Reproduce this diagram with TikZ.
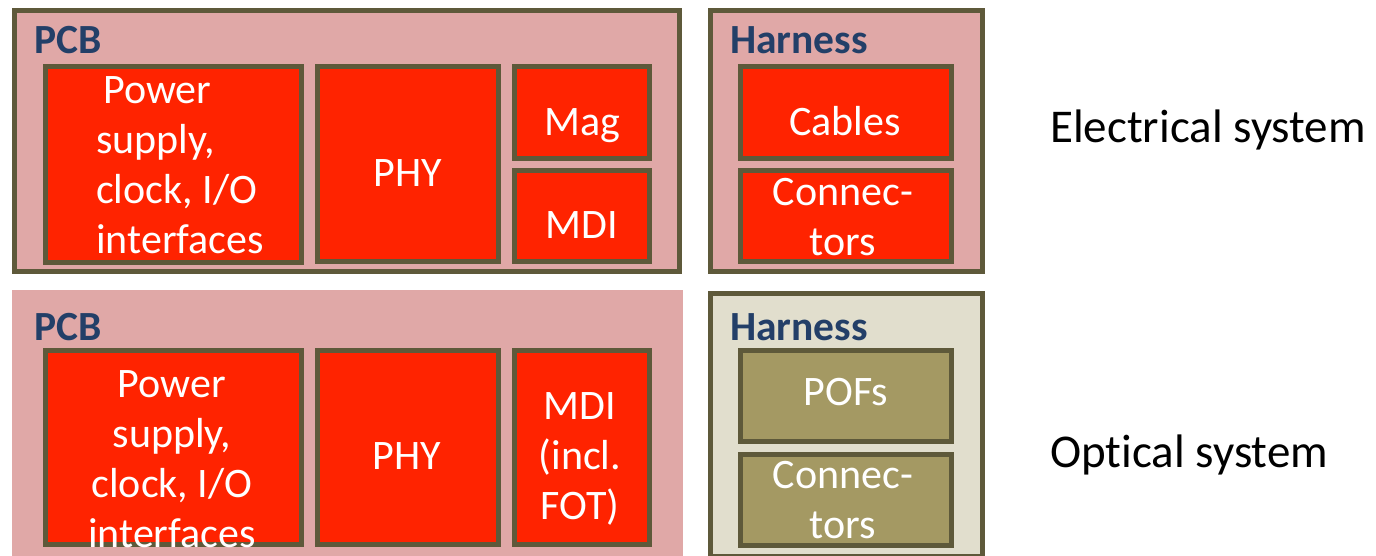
\documentclass[tikz,border=0pt]{standalone}
\usepackage{fontspec}
\setmainfont{Carlito}[Ligatures=NoCommon]
\definecolor{pinkc}{RGB}{224,168,167}
\definecolor{redc}{RGB}{255,35,0}
\definecolor{bordc}{RGB}{94,89,58}
\definecolor{beigec}{RGB}{225,222,205}
\definecolor{olivec}{RGB}{164,153,99}
\definecolor{bluec}{RGB}{35,63,104}
\newcommand{\mlc}[1]{\begin{tabular}[t]{@{}c@{}}#1\end{tabular}}
\newcommand{\mll}[1]{\begin{tabular}[t]{@{}l@{}}#1\end{tabular}}
\begin{document}
\begin{tikzpicture}[x=1pt,y=-1pt,
  box/.style={draw=bordc,line width=5pt,fill=redc,inner sep=0pt,outer sep=0pt,anchor=north west},
  tbox/.style={box,fill=olivec},
  panel/.style={draw=bordc,line width=5pt,fill=pinkc,inner sep=0pt,outer sep=0pt,anchor=north west},
  wtxt/.style={text=white,font=\fontsize{42}{50}\selectfont,inner sep=0pt,anchor=base},
  ttl/.style={text=bluec,font=\bfseries\fontsize{41.5}{48}\selectfont,inner sep=0pt,anchor=base west},
  side/.style={text=black,font=\fontsize{47}{55}\selectfont,inner sep=0pt,anchor=base west}]
\useasboundingbox (0,0) rectangle (1376,555);
% panels
\node[panel,minimum width=665pt,minimum height=261pt] (pcbA) at (14.5,10.5) {};
\node[panel,minimum width=272pt,minimum height=261pt] (harA) at (710.5,10.5) {};
\node[panel,draw=none,minimum width=671pt,minimum height=270pt] (pcbB) at (12,290) {};
\node[panel,fill=beigec,minimum width=272pt,minimum height=263pt] (harB) at (710.5,293.5) {};
% top boxes
\node[box,minimum width=256pt,minimum height=196pt] (pwrA) at (45.5,66.5) {};
\node[box,minimum width=181pt,minimum height=195pt] (phyA) at (317.5,66.5) {};
\node[box,minimum width=135pt,minimum height=92pt] (magA) at (514.5,66.5) {};
\node[box,minimum width=135pt,minimum height=91pt] (mdiA) at (514.5,170.5) {};
\node[box,minimum width=211pt,minimum height=92pt] (cabA) at (740.5,66.5) {};
\node[box,minimum width=211pt,minimum height=91pt] (conA) at (740.5,170.5) {};
% bottom boxes
\node[box,minimum width=256pt,minimum height=194pt] (pwrB) at (45.5,350.5) {};
\node[box,minimum width=181pt,minimum height=194pt] (phyB) at (317.5,350.5) {};
\node[box,minimum width=135pt,minimum height=194pt] (mdiB) at (514.5,350.5) {};
\node[tbox,minimum width=211pt,minimum height=91pt] (pofB) at (740.5,350.5) {};
\node[tbox,minimum width=211pt,minimum height=91pt] (conB) at (740.5,454.5) {};
% titles
\node[ttl] (tPcbA) at (34,53) {PCB};
\node[ttl] (tHarA) at (730,53) {Harness};
\node[ttl] (tPcbB) at (34,340) {PCB};
\node[ttl] (tHarB) at (730,340) {Harness};
% labels top
\node[wtxt,anchor=base west] (lPwrA) at (96,103.5) {\mll{\hspace{7pt}Power\\supply,\\clock, I/O\\interfaces}};
\node[wtxt] (lPhyA) at (408,186) {PHY};
\node[wtxt] (lMagA) at (582,135) {Mag};
\node[wtxt] (lMdiA) at (582,238) {MDI};
\node[wtxt] (lCabA) at (845,135) {Cables};
\node[wtxt] (lConA) at (843,205) {\mlc{Connec-\\tors}};
% labels bottom
\node[wtxt] (lPwrB) at (172,397) {\mlc{Power\\supply,\\clock, I/O\\interfaces}};
\node[wtxt] (lPhyB) at (407,469) {PHY};
\node[wtxt] (lMdiB) at (580,419) {\mlc{MDI\\(incl.\\FOT)}};
\node[wtxt] (lPofB) at (846,405) {POFs};
\node[wtxt] (lConB) at (843,488) {\mlc{Connec-\\tors}};
% side labels
\node[side] (eSys) at (1050,142) {Electrical system};
\node[side] (oSys) at (1050,467) {Opt\kern0pt ical system};
\end{tikzpicture}
\end{document}
